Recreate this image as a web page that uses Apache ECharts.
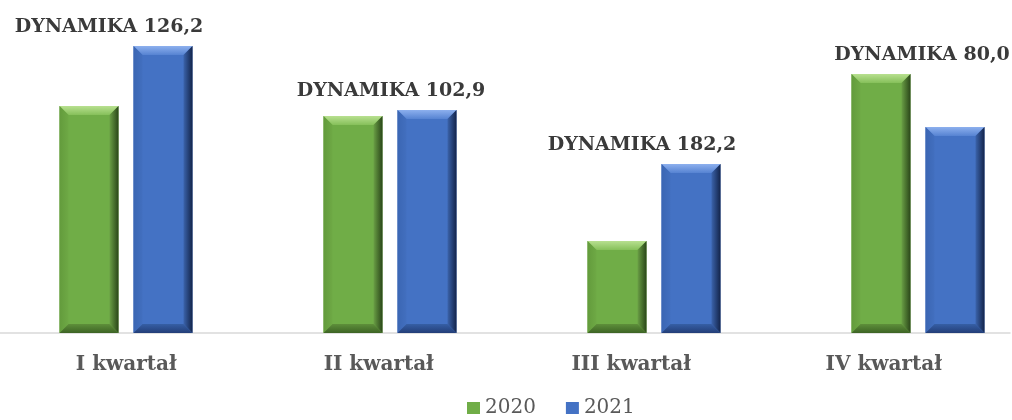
<!DOCTYPE html>
<html>
<head>
<meta charset="utf-8">
<title>Dynamika</title>
<script src="https://cdn.jsdelivr.net/npm/echarts@6/dist/echarts.min.js"></script>
<style>
  html, body { margin: 0; padding: 0; background: #fff; }
  #chart { width: 1012px; height: 420px; }
</style>
</head>
<body>
<div id="chart"></div>
<script>
// dane
var kwartaly = ["I kwartał", "II kwartał", "III kwartał", "IV kwartał"];
var rok2020 = [227, 217, 92, 259];
var rok2021 = [287, 223, 169, 206];
var dynamika = ["126,2", "102,9", "182,2", "80,0"];

// przesuniecie napisow DYNAMIKA wzgledem srodka grupy (px)
var labelShift = [-17, 1, -12, 4];

var FONT = '"DejaVu Serif", "Liberation Serif", serif';
var BAR_W = 59, GAP = 15, BEVEL = 9;

var palette = {
  green: { face: "#70ad47", top: ["#b8e090", "#86c05a"], left: ["#639b3c", "#6ea945"],
           right: ["#6a9f45", "#2a4619"], bottom: ["#5e8f3a", "#3d6425"] },
  blue:  { face: "#4472c4", top: ["#8db0ee", "#5683d2"], left: ["#3b66b3", "#426fbf"],
           right: ["#3b63ab", "#13244a"], bottom: ["#365fa5", "#233e78"] }
};

function grad(c, horiz) {
  return { type: "linear", x: 0, y: 0, x2: horiz ? 1 : 0, y2: horiz ? 0 : 1,
           colorStops: [{ offset: 0, color: c[0] }, { offset: 1, color: c[1] }] };
}

// slupek z efektem fazy (bevel)
function bevelBar(cx, yTop, yBase, p) {
  var x0 = cx - BAR_W / 2, x1 = cx + BAR_W / 2, y0 = yTop, y1 = yBase, b = BEVEL;
  return [
    { type: "rect", shape: { x: x0, y: y0, width: BAR_W, height: y1 - y0 }, style: { fill: p.face } },
    { type: "polygon", shape: { points: [[x0, y0], [x1, y0], [x1 - b, y0 + b], [x0 + b, y0 + b]] }, style: { fill: grad(p.top) } },
    { type: "polygon", shape: { points: [[x0, y0], [x0 + b, y0 + b], [x0 + b, y1 - b], [x0, y1]] }, style: { fill: grad(p.left, true) } },
    { type: "polygon", shape: { points: [[x1, y0], [x1, y1], [x1 - b, y1 - b], [x1 - b, y0 + b]] }, style: { fill: grad(p.right, true) } },
    { type: "polygon", shape: { points: [[x0, y1], [x0 + b, y1 - b], [x1 - b, y1 - b], [x1, y1]] }, style: { fill: grad(p.bottom) } }
  ];
}

function makeRender(side, p, withLabel) {
  return function (params, api) {
    var idx = api.value(0);
    var top = api.coord([idx, api.value(1)]);
    var base = api.coord([idx, 0]);
    var cx = top[0] + side * (BAR_W + GAP) / 2;
    var children = bevelBar(cx, top[1], base[1], p);
    if (withLabel) {
      var other = api.coord([idx, api.value(2)]);
      var yTop = Math.min(top[1], other[1]);
      children.push({
        type: "text",
        x: top[0] + labelShift[idx],
        y: yTop - 19,
        style: {
          text: "DYNAMIKA " + dynamika[idx],
          fontFamily: FONT, fontWeight: "bold", fontSize: 19,
          fill: "#3a3a3a", align: "center", verticalAlign: "middle"
        }
      });
    }
    return { type: "group", children: children };
  };
}

var chart = echarts.init(document.getElementById("chart"));
var option = {
  animation: false,
  legend: {
    left: 462, top: 393,
    itemWidth: 13, itemHeight: 12, itemGap: 30,
    icon: "rect",
    textStyle: { fontFamily: FONT, fontSize: 20, color: "#595959" },
    data: ["2020", "2021"]
  },
  grid: [
    { left: -6, right: -38, top: 0, bottom: 87, outerBoundsMode: "none", containLabel: false },
    { left: 0, right: 2, top: 0, bottom: 87, outerBoundsMode: "none", containLabel: false }
  ],
  xAxis: [
    { type: "category", gridIndex: 0, data: kwartaly, show: false },
    {
      type: "category", gridIndex: 1, data: kwartaly,
      axisLine: { lineStyle: { color: "#d9d9d9", width: 1.5 } },
      axisTick: { show: false },
      axisLabel: { margin: 22, fontFamily: FONT, fontWeight: "bold", fontSize: 20, color: "#595959" }
    }
  ],
  yAxis: [
    { type: "value", gridIndex: 0, min: 0, max: 333, show: false },
    { type: "value", gridIndex: 1, min: 0, max: 333, show: false }
  ],
  series: [
    {
      name: "2020", type: "custom", xAxisIndex: 0, yAxisIndex: 0,
      itemStyle: { color: "#70ad47" },
      renderItem: makeRender(-1, palette.green, false),
      encode: { x: 0, y: 1 },
      data: kwartaly.map(function (k, i) { return [i, rok2020[i]]; })
    },
    {
      name: "2021", type: "custom", xAxisIndex: 0, yAxisIndex: 0,
      itemStyle: { color: "#4472c4" },
      renderItem: makeRender(1, palette.blue, true),
      encode: { x: 0, y: 1 },
      data: kwartaly.map(function (k, i) { return [i, rok2021[i], rok2020[i]]; })
    }
  ]
};
chart.setOption(option);
</script>
</body>
</html>
